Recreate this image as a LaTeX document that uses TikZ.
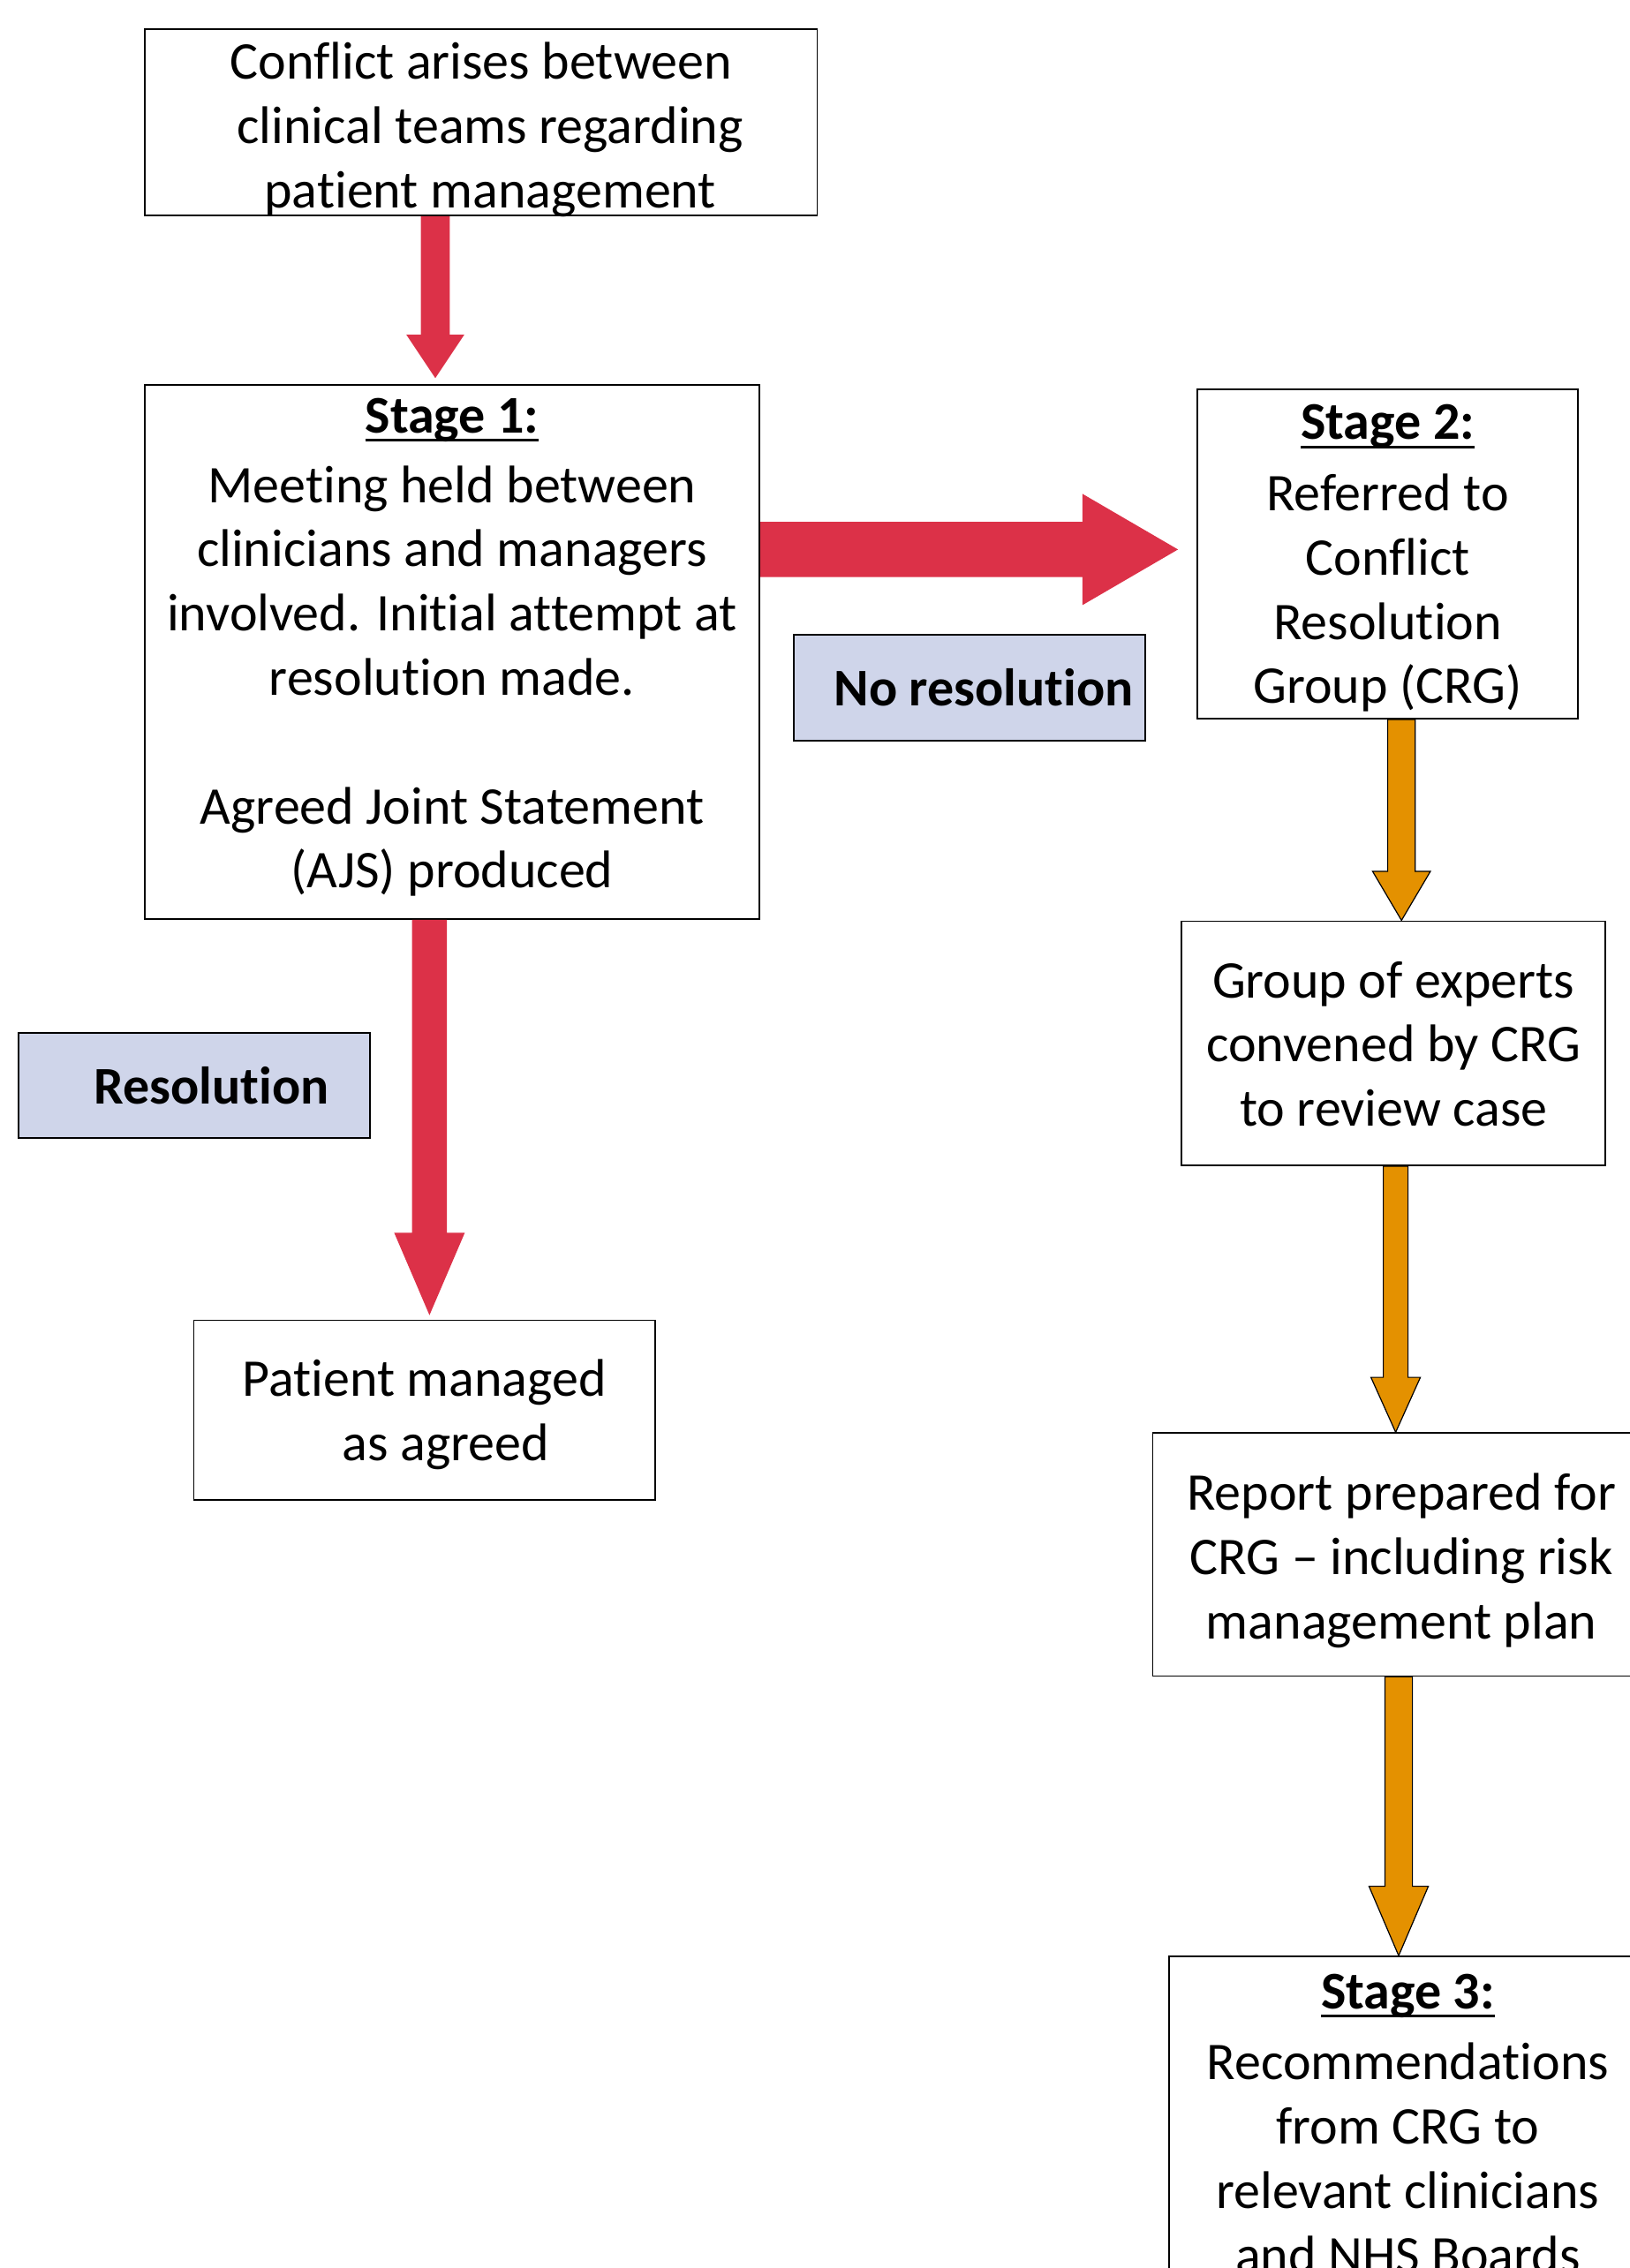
\documentclass[tikz,border=0pt]{standalone}
\usepackage{fontspec}
\setmainfont{Carlito}[Ligatures={NoCommon}]
\usetikzlibrary{calc}
\definecolor{crimson}{RGB}{220,49,72}
\definecolor{amber}{RGB}{228,145,0}
\definecolor{paleblue}{RGB}{207,213,234}

% fixed line extents, so text sits the same way in every box
\newcommand{\linetop}[1][25pt]{\rule{0pt}{#1}}
\newcommand{\linebot}[1][10pt]{\rule[-#1]{0pt}{0pt}}
\newcommand{\stagehead}[1]{\setbox0\hbox{\textbf{#1}}\rlap{\rule[-5pt]{\wd0}{1.6pt}}\box0}

% block arrow: [style]{start}{tip}{half shaft}{half head}{head length}
\newcommand{\blockarrow}[6][]{%
  \coordinate (ba-s) at (#2);
  \coordinate (ba-t) at (#3);
  \coordinate (ba-h) at ($(ba-t)!#6!(ba-s)$);
  \path[#1] ($(ba-s)!#4!90:(ba-t)$) -- ($(ba-h)!#4!-90:(ba-s)$) -- ($(ba-h)!#5!-90:(ba-s)$)
    -- (ba-t) -- ($(ba-h)!#5!90:(ba-s)$) -- ($(ba-h)!#4!90:(ba-s)$) -- ($(ba-s)!#4!-90:(ba-t)$) -- cycle;
}

\begin{document}
\begin{tikzpicture}[
    box/.style={rectangle, draw, line width=0.9pt, align=center, inner sep=0pt, font=\fontsize{30}{36.4}\selectfont},
    tag/.style={rectangle, draw, line width=0.9pt, fill=paleblue, inner sep=0pt, minimum width=199pt, minimum height=59.8pt, font=\fontsize{30}{36.4}\selectfont\bfseries},
    redarrow/.style={fill=crimson},
    orangearrow/.style={fill=amber, draw=black, line width=0.6pt}
  ]
  \useasboundingbox (0,0) rectangle (923pt,-1284.5pt);
  \clip (0,0) rectangle (923pt,-1284.5pt);

  % left column
  \node[box, minimum width=380.8pt, minimum height=105.6pt] (conflict) at (272.3pt,-69.2pt)
    {\linetop[28pt]Conflict arises between\\\hspace*{10.6pt}clinical teams regarding\\\hspace*{10.6pt}\smash{patient management}\linebot[4.2pt]};
  \node[box, minimum width=348.1pt, minimum height=302.5pt] (stage1) at (256pt,-369.25pt)
    {\linetop\stagehead{Stage 1:}\\[3pt]Meeting held between\\clinicians and managers\\involved. Initial attempt at\\resolution made.\\[36.4pt]Agreed Joint Statement\\(AJS) produced\linebot[15.4pt]};
  \node[box, minimum width=261.3pt, minimum height=101.6pt] (patient) at (240.35pt,-798.5pt)
    {\linetop[31pt]Patient managed\\\hspace*{24pt}as agreed\linebot};

  % right column
  \node[box, minimum width=215.4pt, minimum height=186.7pt] (stage2) at (785.8pt,-313.65pt)
    {\linetop\stagehead{Stage 2:}\\[4pt]Referred to\\Conflict\\Resolution\\Group (CRG)\linebot[5pt]};
  \node[box, minimum width=240pt, minimum height=138.4pt] (group) at (789.1pt,-590.9pt)
    {\linetop[31pt]Group of experts\\convened by CRG\\to review case\linebot};
  \node[box, minimum width=281.8pt, minimum height=137.6pt] (report) at (793.6pt,-880.4pt)
    {\linetop[32.4pt]Report prepared for\\CRG – including risk\\management plan\linebot};
  \node[box, minimum width=270.8pt, minimum height=186.9pt] (stage3) at (797.2pt,-1201.5pt)
    {\linetop\stagehead{Stage 3:}\\[4pt]Recommendations\\from CRG to\\relevant clinicians\\and NHS Boards\linebot[3.4pt]};

  % outcome tags
  \node[tag] (nores) at (549.1pt,-389.4pt) {\hspace*{16pt}No resolution};
  \node[tag] (resol) at (110.15pt,-614.7pt) {\hspace*{19pt}Resolution};

  % arrows
  \blockarrow[redarrow]{$(conflict.south)+(-25.8pt,0)$}{$(stage1.north)+(-9.5pt,3.4pt)$}{8.2pt}{16.4pt}{24.6pt}
  \blockarrow[redarrow]{$(stage1.east)+(0,58.05pt)$}{$(stage2.west)+(-10.6pt,2.45pt)$}{15.6pt}{31.5pt}{54.1pt}
  \blockarrow[redarrow]{$(stage1.south)+(-12.8pt,0)$}{$(patient.north)+(2.85pt,2.4pt)$}{9.85pt}{20pt}{46.7pt}
  \blockarrow[orangearrow]{$(stage2.south)+(7.8pt,0)$}{$(group.north)+(4.5pt,0)$}{7.8pt}{16.4pt}{27.8pt}
  \blockarrow[orangearrow]{$(group.south)+(1.2pt,0)$}{$(report.north)+(-3.3pt,0)$}{7pt}{14pt}{31.1pt}
  \blockarrow[orangearrow]{$(report.south)+(-1.6pt,0)$}{$(stage3.north)+(-5.2pt,0)$}{7.8pt}{16.8pt}{39.3pt}
\end{tikzpicture}
\end{document}
